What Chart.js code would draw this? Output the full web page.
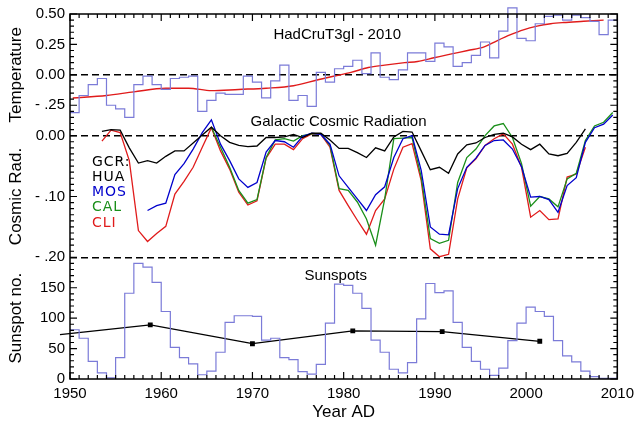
<!DOCTYPE html>
<html>
<head>
<meta charset="utf-8">
<script src="https://cdn.jsdelivr.net/npm/chart.js@4.4.0/dist/chart.umd.min.js"></script>
<style>
  html, body { margin: 0; padding: 0; background: #fff; }
  #wrap { width: 640px; height: 423px; }
</style>
</head>
<body>
<div id="wrap"><canvas id="chart"></canvas></div>
<script>
// HadCruT3gl annual temperature, 1950-2009
const tempStart = 1950;
const tempValues = [
  -0.31, -0.17, -0.08, -0.03, -0.25, -0.28, -0.35, -0.08, -0.01, -0.08,
  -0.12, -0.03, -0.02, -0.01, -0.30, -0.21, -0.15, -0.16, -0.16, -0.01,
  -0.06, -0.19, -0.05, 0.08, -0.21, -0.17, -0.26, 0.02, -0.06, 0.05,
  0.07, 0.12, 0.01, 0.18, -0.02, -0.04, 0.04, 0.18, 0.18, 0.11,
  0.26, 0.23, 0.07, 0.10, 0.16, 0.27, 0.14, 0.36, 0.55, 0.30,
  0.28, 0.42, 0.48, 0.49, 0.45, 0.49, 0.47, 0.44, 0.33, 0.45
];
// smoothed temperature (red)
const tempSmoothYears = [1950.3, 1954, 1957, 1960.5, 1963, 1965.5, 1968.5, 1971.5, 1974.5, 1977.2,
  1979, 1980.8, 1982.7, 1984.5, 1986.7, 1988.1, 1989.9, 1991.7, 1993.6, 1995.4,
  1996.8, 1998.3, 1999.7, 2001.2, 2002.7, 2004.1, 2006.3, 2008.5];
const tempSmoothValues = [-0.19, -0.17, -0.14, -0.11, -0.11, -0.13, -0.12, -0.11, -0.09, -0.04,
  -0.01, 0.02, 0.06, 0.08, 0.10, 0.11, 0.14, 0.17, 0.20, 0.23,
  0.28, 0.33, 0.37, 0.40, 0.42, 0.43, 0.44, 0.45];

// Galactic cosmic radiation, annual, plotted mid-year
const huaStart = 1953;
const huaValues = [
  0.007, 0.010, 0.009, -0.020, -0.045, -0.041, -0.045, -0.034, -0.025, -0.025,
  -0.012, 0.001, 0.014, 0.000, -0.011, -0.016, -0.018, -0.017, -0.003, -0.003,
  -0.002, 0.002, -0.003, 0.004, 0.004, -0.007, -0.021, -0.021, -0.028, -0.036,
  -0.020, -0.025, -0.002, 0.007, 0.006, -0.025, -0.056, -0.052, -0.062, -0.030,
  -0.015, -0.012, -0.003, 0.002, 0.004, -0.002, -0.014, -0.023, -0.014, -0.030,
  -0.033, -0.029, -0.011, 0.011
];
const mosStart = 1958;
const mosValues = [
  -0.123, -0.115, -0.111, -0.064, -0.046, -0.022, 0.005, 0.026, -0.014, -0.041,
  -0.071, -0.085, -0.077, -0.027, -0.008, -0.010, -0.019, -0.001, 0.004, 0.002,
  -0.014, -0.066, -0.085, -0.104, -0.123, -0.097, -0.084, -0.036, -0.005, 0.000,
  -0.057, -0.150, -0.162, -0.163, -0.087, -0.052, -0.037, -0.016, -0.008, -0.007,
  -0.022, -0.051, -0.101, -0.100, -0.105, -0.126, -0.082, -0.069, -0.011, 0.013,
  0.019, 0.034
];
const calStart = 1965;
const calValues = [
  0.014, -0.019, -0.052, -0.090, -0.111, -0.105, -0.036, -0.007, -0.005, -0.009,
  0.000, 0.003, 0.003, -0.016, -0.087, -0.090, -0.109, -0.137, -0.180, -0.104,
  -0.005, -0.004, -0.003, -0.068, -0.169, -0.177, -0.172, -0.077, -0.036, -0.022,
  0.000, 0.016, 0.020, -0.003, -0.046, -0.116, -0.100, -0.104, -0.117, -0.071,
  -0.062, -0.008, 0.016, 0.022, 0.038
];
const cliStart = 1953;
const cliValues = [
  -0.009, 0.009, 0.005, -0.041, -0.156, -0.174, -0.161, -0.149, -0.096, -0.075,
  -0.052, -0.019, 0.013, -0.025, -0.055, -0.093, -0.114, -0.107, -0.037, -0.014,
  -0.014, -0.023, -0.005, 0.003, 0.002, -0.019, -0.090, -0.115, -0.139, -0.162,
  -0.123, -0.104, -0.055, -0.019, -0.013, -0.074, -0.186, -0.199, -0.195, -0.104,
  -0.053, -0.038, -0.016, -0.005, 0.003, -0.014, -0.052, -0.134, -0.123, -0.138,
  -0.137, -0.068, -0.063, -0.019
];

// annual sunspot numbers, 1950-2010
const sunStart = 1950;
const sunValues = [
  81, 67, 29, 10, 2, 35, 141, 190, 184, 159,
  111, 52, 35, 25, 7, 13, 44, 93, 104, 104,
  103, 64, 67, 35, 32, 12, 8, 24, 92, 156,
  154, 141, 116, 64, 44, 16, 10, 27, 99, 157,
  142, 145, 93, 52, 29, 16, 6, 18, 63, 92,
  118, 111, 103, 63, 38, 28, 13, 4, 1, 1,
  14
];
// cycle averages
const cycleYears = [1948.9, 1958.8, 1970.0, 1981.0, 1990.8, 2001.5];
const cycleValues = [73, 89, 58, 79, 78, 62];

const legendNames = ['GCR:', 'HUA', 'MOS', 'CAL', 'CLI'];
const legendColors = ['#000', '#000', '#0000cc', '#1a8f1a', '#e01b1b'];

const stepColor = '#7b7bd8';

function steps(start, vals) {
  const pts = vals.map((v, i) => ({x: start + i, y: v}));
  pts.push({x: start + vals.length, y: vals[vals.length - 1]});
  return pts;
}
function midYear(start, vals) {
  return vals.map((v, i) => ({x: start + i + 0.5, y: v}));
}
function pairs(xs, ys) {
  return xs.map((x, i) => ({x: x, y: ys[i]}));
}
function near(a, b) { return Math.abs(a - b) < 1e-7; }
function decLabel(v) {
  if (near(v, 0)) return '0.00';
  if (v < 0) return '- ' + Math.abs(v).toFixed(2).slice(1);
  return v.toFixed(2);
}

Chart.defaults.font.family = '"Liberation Sans", Arial, sans-serif';
Chart.defaults.color = '#000';

const line = (data, color, yAxisID, extra) => Object.assign({
  data: data, borderColor: color, backgroundColor: color, borderWidth: 1.3,
  pointRadius: 0, yAxisID: yAxisID, clip: false, fill: false
}, extra || {});

const frame = {
  id: 'frame',
  afterDatasetsDraw(chart) {
    const {ctx, chartArea: a, scales} = chart;
    ctx.save();
    ctx.strokeStyle = '#000';
    ctx.lineWidth = 1.5;
    ctx.strokeRect(a.left, a.top, a.right - a.left, a.bottom - a.top);
    ctx.lineWidth = 1.2;
    ctx.beginPath();
    for (let yr = 1950; yr <= 2010; yr++) {
      const px = scales.x.getPixelForValue(yr);
      const len = yr % 10 === 0 ? 7 : 4;
      ctx.moveTo(px, a.bottom); ctx.lineTo(px, a.bottom - len);
      ctx.moveTo(px, a.top); ctx.lineTo(px, a.top + len);
    }
    const yTicks = [
      {s: scales.yT, from: -0.5, to: 0.5, minor: 0.05, major: 0.25},
      {s: scales.yC, from: -0.2, to: 0, minor: 0.01, major: 0.1},
      {s: scales.yS, from: 0, to: 200, minor: 10, major: 50}
    ];
    yTicks.forEach(t => {
      const n = Math.round((t.to - t.from) / t.minor);
      for (let i = 0; i <= n; i++) {
        const v = t.from + i * t.minor;
        const py = t.s.getPixelForValue(v);
        const isMajor = near(v / t.major, Math.round(v / t.major));
        const len = isMajor ? 7 : 4;
        ctx.moveTo(a.left, py); ctx.lineTo(a.left + len, py);
        ctx.moveTo(a.right, py); ctx.lineTo(a.right - len, py);
      }
    });
    ctx.stroke();

    // panel captions
    ctx.fillStyle = '#000';
    ctx.textBaseline = 'middle';
    ctx.textAlign = 'left';
    ctx.font = '15px "Liberation Sans", Arial, sans-serif';
    ctx.fillText('HadCruT3gl - 2010', scales.x.getPixelForValue(1972.3), scales.yT.getPixelForValue(0.33));
    ctx.fillText('Galactic Cosmic Radiation', scales.x.getPixelForValue(1969.8), scales.yC.getPixelForValue(0.022));
    ctx.fillText('Sunspots', scales.x.getPixelForValue(1975.7), scales.yS.getPixelForValue(169));

    // series key
    ctx.font = '14px "DejaVu Sans", sans-serif';
    if ('letterSpacing' in ctx) ctx.letterSpacing = '1px';
    const keyVals = [-0.044, -0.069, -0.093, -0.118, -0.144];
    legendNames.forEach((name, i) => {
      ctx.fillStyle = legendColors[i];
      ctx.fillText(name, scales.x.getPixelForValue(1952.4), scales.yC.getPixelForValue(keyVals[i]));
    });
    ctx.restore();
  }
};

const yBase = {
  type: 'linear',
  position: 'left',
  stack: 'panels',
  stackWeight: 1,
  grid: {drawTicks: false, lineWidth: 1.4},
  border: {display: false, dash: [7, 4]},
  ticks: {autoSkip: false, padding: 5, font: {size: 15}},
  title: {display: true, font: {size: 17}, padding: {top: 6, bottom: 0}},
  afterFit: s => { s.width = 70; }
};

new Chart(document.getElementById('chart'), {
  type: 'line',
  data: {
    datasets: [
      line(steps(tempStart, tempValues), stepColor, 'yT', {stepped: true, borderWidth: 1.2}),
      line(pairs(tempSmoothYears, tempSmoothValues), '#e01b1b', 'yT', {tension: 0.4, cubicInterpolationMode: 'monotone', borderWidth: 1.4}),
      line(midYear(huaStart, huaValues), '#000', 'yC'),
      line(midYear(mosStart, mosValues), '#0000cc', 'yC'),
      line(midYear(calStart, calValues), '#1a8f1a', 'yC'),
      line(midYear(cliStart, cliValues), '#e01b1b', 'yC'),
      line(steps(sunStart, sunValues), stepColor, 'yS', {stepped: true, borderWidth: 1.2}),
      line(pairs(cycleYears, cycleValues), '#000', 'yS', {pointRadius: 2.5, pointStyle: 'rect', borderWidth: 1.3})
    ]
  },
  options: {
    responsive: true,
    maintainAspectRatio: false,
    animation: false,
    devicePixelRatio: 1,
    layout: {padding: {top: 13, right: 19, left: 0, bottom: 0}},
    plugins: {legend: {display: false}, tooltip: {enabled: false}},
    scales: {
      x: {
        type: 'linear',
        min: 1950,
        max: 2010,
        ticks: {stepSize: 10, padding: 6, font: {size: 15}, callback: v => String(v)},
        grid: {drawOnChartArea: false, drawTicks: false},
        border: {display: false},
        title: {display: true, text: 'Year AD', font: {size: 17}, padding: 0},
        afterFit: s => { s.height = 44; }
      },
      yT: Object.assign({}, yBase, {
        weight: 3, min: -0.5, max: 0.5,
        ticks: Object.assign({}, yBase.ticks, {stepSize: 0.25, callback: v => near(v, -0.5) ? '' : decLabel(v)}),
        grid: Object.assign({}, yBase.grid, {color: c => c.tick && near(c.tick.value, 0) ? '#000' : 'rgba(0,0,0,0)'}),
        title: Object.assign({}, yBase.title, {text: 'Temperature'})
      }),
      yC: Object.assign({}, yBase, {
        weight: 2, min: -0.2, max: 0,
        ticks: Object.assign({}, yBase.ticks, {stepSize: 0.1, callback: v => decLabel(v)}),
        grid: Object.assign({}, yBase.grid, {color: c => c.tick && (near(c.tick.value, 0) || near(c.tick.value, -0.2)) ? '#000' : 'rgba(0,0,0,0)'}),
        title: Object.assign({}, yBase.title, {text: 'Cosmic Rad.'})
      }),
      yS: Object.assign({}, yBase, {
        weight: 1, min: 0, max: 200,
        ticks: Object.assign({}, yBase.ticks, {stepSize: 50, callback: v => v === 200 ? '' : String(v)}),
        grid: Object.assign({}, yBase.grid, {color: 'rgba(0,0,0,0)'}),
        title: Object.assign({}, yBase.title, {text: 'Sunspot no.'})
      })
    }
  },
  plugins: [frame]
});
</script>
</body>
</html>
